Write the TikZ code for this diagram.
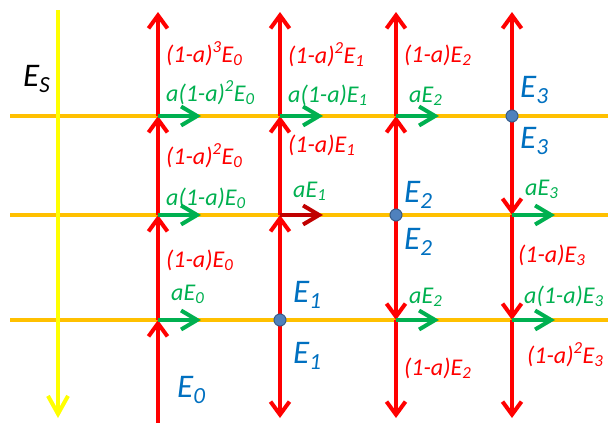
\documentclass[tikz,border=0pt]{standalone}
\usepackage{fontspec}
\setmainfont{Carlito}
\usetikzlibrary{arrows.meta}
\definecolor{ored}{HTML}{FF0000}
\definecolor{ogreen}{HTML}{00B050}
\definecolor{oblue}{HTML}{0070C0}
\definecolor{odark}{HTML}{C00000}
\definecolor{oorange}{HTML}{FFC000}
\definecolor{oyellow}{HTML}{FFFF00}
\definecolor{odot}{HTML}{4F81BD}
\definecolor{odotrim}{HTML}{385D8A}

\begin{document}
\begin{tikzpicture}[x=1pt,y=-1pt,
    beam/.style={line width=4pt,ored,-{Straight Barb[length=13pt,width=19pt]}},
    part/.style={line width=4pt,ogreen,-{Straight Barb[length=16pt,width=19pt]}},
    level/.style={line width=4pt,oorange},
    source/.style={circle,fill=odot,draw=odotrim,line width=1pt,minimum size=12pt,inner sep=0},
    lbl/.style={anchor=base west,inner sep=0,font=\fontsize{24}{28}\selectfont\itshape},
    rlbl/.style={lbl,ored},
    glbl/.style={lbl,ogreen},
    blbl/.style={anchor=base west,inner sep=0,oblue,font=\fontsize{33}{38}\selectfont\itshape}]
    \useasboundingbox (0,0) rectangle (608,423);
    % grid points
    \foreach[count=\i] \x in {158,280,396,512}{
        \coordinate (t\i) at (\x,12);
        \coordinate (a\i) at (\x,116);
        \coordinate (b\i) at (\x,215);
        \coordinate (c\i) at (\x,320);
        \coordinate (d\i) at (\x,418);
        \coordinate (ga\i) at (\x+43,116);
        \coordinate (gb\i) at (\x+43,215);
        \coordinate (gc\i) at (\x+43,320);
    }
    \coordinate (d1) at (158,423);
    % levels
    \foreach[count=\j] \y in {116,215,320}{
        \coordinate (w\j) at (10,\y);
        \coordinate (e\j) at (608,\y);
        \draw[level] (w\j) -- (e\j);
    }
    \coordinate (ys) at (58,10);
    \coordinate (ye) at (58,418);
    \draw[line width=4pt,oyellow,-{Straight Barb[length=18pt,width=20pt]}] (ys) -- (ye);
    % vertical beams
    \draw[beam] (d1) -- (c1);
    \draw[beam] (c1) -- (b1);
    \draw[beam] (b1) -- (a1);
    \draw[beam] (a1) -- (t1);
    \draw[beam] (c2) -- (d2);
    \draw[beam] (c2) -- (b2);
    \draw[beam] (b2) -- (a2);
    \draw[beam] (a2) -- (t2);
    \draw[beam] (b3) -- (a3);
    \draw[beam] (a3) -- (t3);
    \draw[beam] (b3) -- (c3);
    \draw[beam] (c3) -- (d3);
    \draw[beam] (a4) -- (t4);
    \draw[beam] (a4) -- (b4);
    \draw[beam] (b4) -- (c4);
    \draw[beam] (c4) -- (d4);
    % horizontal parts
    \draw[part] (a1) -- (ga1);
    \draw[part] (b1) -- (gb1);
    \draw[part] (c1) -- (gc1);
    \draw[part] (a2) -- (ga2);
    \draw[part,odark] (b2) -- (gb2);
    \draw[part] (a3) -- (ga3);
    \draw[part] (c3) -- (gc3);
    \draw[part] (b4) -- (gb4);
    \draw[part] (c4) -- (gc4);
    % sources
    \node[source] (s1) at (c2) {};
    \node[source] (s2) at (b3) {};
    \node[source] (s3) at (a4) {};
    % labels
    \node[anchor=base west,inner sep=0,font=\fontsize{33}{38}\selectfont\itshape] (es) at (23,86) {E\textsubscript{S}};
    \node[rlbl] (r13) at (166,62) {(1-a)\textsuperscript{3}E\textsubscript{0}};
    \node[glbl] (g12) at (166,101) {a(1-a)\textsuperscript{2}E\textsubscript{0}};
    \node[rlbl] (r12) at (166,164) {(1-a)\textsuperscript{2}E\textsubscript{0}};
    \node[glbl] (g11) at (166,205) {a(1-a)E\textsubscript{0}};
    \node[rlbl] (r11) at (166,267) {(1-a)E\textsubscript{0}};
    \node[glbl] (g10) at (171,300) {aE\textsubscript{0}};
    \node[blbl] (e0) at (177,397) {E\textsubscript{0}};
    \node[rlbl] (r22) at (288,63) {(1-a)\textsuperscript{2}E\textsubscript{1}};
    \node[glbl] (g21) at (288,102) {a(1-a)E\textsubscript{1}};
    \node[rlbl] (r21) at (288,152) {(1-a)E\textsubscript{1}};
    \node[glbl] (g20) at (293,197) {aE\textsubscript{1}};
    \node[blbl] (e1a) at (293,302) {E\textsubscript{1}};
    \node[blbl] (e1b) at (293,363) {E\textsubscript{1}};
    \node[rlbl] (r31) at (404,62) {(1-a)E\textsubscript{2}};
    \node[glbl] (g30) at (409,102) {aE\textsubscript{2}};
    \node[blbl] (e2a) at (404,202) {E\textsubscript{2}};
    \node[blbl] (e2b) at (404,249) {E\textsubscript{2}};
    \node[glbl] (g31) at (409,303) {aE\textsubscript{2}};
    \node[rlbl] (r32) at (404,375) {(1-a)E\textsubscript{2}};
    \node[blbl] (e3a) at (520,97) {E\textsubscript{3}};
    \node[blbl] (e3b) at (520,148) {E\textsubscript{3}};
    \node[glbl] (g40) at (525,195) {aE\textsubscript{3}};
    \node[rlbl] (r41) at (518,262) {(1-a)E\textsubscript{3}};
    \node[glbl] (g41) at (524,303) {a(1-a)E\textsubscript{3}};
    \node[rlbl] (r42) at (527,363) {(1-a)\textsuperscript{2}E\textsubscript{3}};
\end{tikzpicture}
\end{document}
